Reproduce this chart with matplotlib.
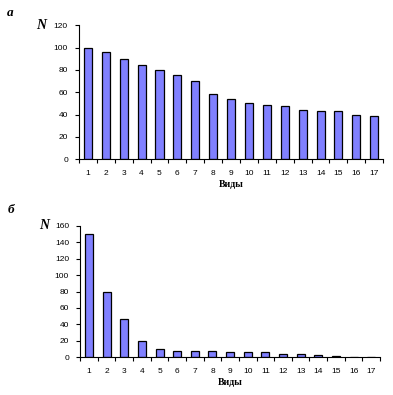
import matplotlib
matplotlib.use('Agg')
import matplotlib.pyplot as plt
import numpy as np

# species rank (1..17) and abundance N for both panels
species = list(range(1, 18))
n_a = [100, 96, 90, 84, 80, 75, 70, 58, 54, 50, 49, 48, 44, 43, 43, 40, 39]
n_b = [150, 80, 46, 20, 10, 7, 7, 7, 6, 6, 6, 4, 4, 3, 1, 0, 0]
yticks_a = [0, 20, 40, 60, 80, 100, 120]
yticks_b = [0, 20, 40, 60, 80, 100, 120, 140, 160]

bar_color = '#8080ff'
tick_font = {'family': 'Liberation Sans', 'size': 6}

fig = plt.figure(figsize=(3.93, 3.95), dpi=100)

def draw_panel(rect, vals, yticks, letter, n_pos, letter_pos):
    ax = fig.add_axes(rect)
    ax.bar(species, vals, width=0.45, color=bar_color, edgecolor='black', linewidth=0.9)
    ax.set_xlim(0.5, 17.5)
    ax.set_ylim(yticks[0], yticks[-1])
    ax.set_yticks(yticks)
    ax.set_yticklabels([str(t) for t in yticks], fontdict=tick_font)
    # ticks between categories, labels centered under bars
    ax.set_xticks(np.arange(0.5, 18, 1))
    ax.set_xticklabels([])
    ax.set_xticks(species, minor=True)
    ax.set_xticklabels([str(s) for s in species], minor=True, fontdict=tick_font)
    ax.tick_params(axis='x', which='minor', length=0, pad=8)
    ax.tick_params(axis='both', which='major', length=3, width=0.8, direction='out', pad=5)
    for s in ['top', 'right']:
        ax.spines[s].set_visible(False)
    for s in ['left', 'bottom']:
        ax.spines[s].set_linewidth(0.8)
    ax.set_xlabel('Виды', family='Liberation Serif', weight='bold', size=7, labelpad=2)
    ax.text(n_pos[0], n_pos[1], 'N', transform=ax.transAxes, family='Liberation Serif',
            weight='bold', style='italic', size=10, ha='center', va='center')
    ax.text(letter_pos[0], letter_pos[1], letter, transform=ax.transAxes, family='Liberation Serif',
            weight='bold', style='italic', size=9.5, ha='center', va='center')
    return ax

draw_panel([0.201, 0.597, 0.774, 0.339], n_a, yticks_a, 'а', (-0.125, 1.0), (-0.225, 1.095))
draw_panel([0.204, 0.096, 0.763, 0.332], n_b, yticks_b, 'б', (-0.12, 1.0), (-0.23, 1.12))

fig.savefig('out.png', dpi=100)
